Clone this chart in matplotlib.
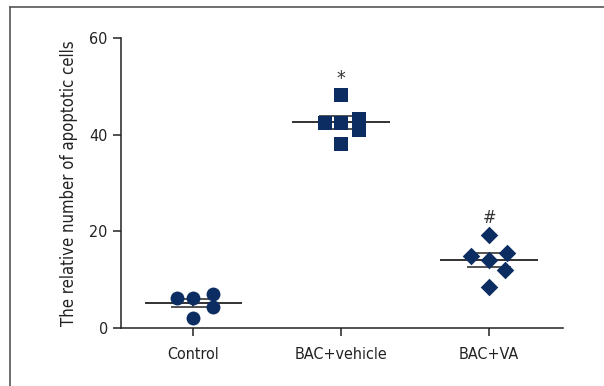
import numpy as np
import matplotlib.pyplot as plt
from matplotlib.lines import Line2D

groups = ['Control', 'BAC+vehicle', 'BAC+VA']
control = [6.2, 6.2, 7.0, 4.3, 2.1]
vehicle = [48.2, 42.4, 42.4, 43.2, 41.0, 38.1]
va = [19.2, 14.9, 14.1, 15.5, 12.0, 8.5]
offsets = [
    [-0.11, 0.0, 0.13, 0.13, 0.0],
    [0.0, -0.11, 0.0, 0.12, 0.12, 0.0],
    [0.0, -0.12, 0.0, 0.12, 0.11, 0.0],
]
markers = ['o', 's', 'D']
marks = ['', '*', '#']
color = '#0b2d62'

plt.rcParams['font.family'] = ['DejaVu Sans']
plt.rcParams['font.stretch'] = 'condensed'

fig = plt.figure(figsize=(6.04, 3.86), dpi=100)
ax = fig.add_axes([0.2003, 0.1503, 0.7317, 0.7513])

for i, vals in enumerate([control, vehicle, va]):
    vals = np.array(vals)
    xs = i + np.array(offsets[i])
    ax.scatter(xs, vals, marker=markers[i], s=100 if markers[i] != 'D' else 80,
               color=color, zorder=3, linewidths=0)
    m = vals.mean()
    sem = vals.std(ddof=1) / np.sqrt(len(vals))
    ax.hlines(m, i - 0.33, i + 0.33, color='#222222', lw=1.3, zorder=2)
    ax.vlines(i, m - sem, m + sem, color='#222222', lw=1.3, zorder=2)
    ax.hlines([m - sem, m + sem], i - 0.15, i + 0.15, color='#444444', lw=1.3, zorder=2)
    if marks[i] == '*':
        ax.text(i, vals.max() + 3.4, marks[i], ha='center', va='center', fontsize=14, color='#333333')
    elif marks[i]:
        ax.text(i, vals.max() + 3.6, marks[i], ha='center', va='center', fontsize=13, color='#333333')

ax.set_xlim(-0.49, 2.5)
ax.set_ylim(0, 60)
ax.set_yticks([0, 20, 40, 60])
ax.set_xticks(range(3))
ax.set_xticklabels(groups)
ax.spines['top'].set_visible(False)
ax.spines['right'].set_visible(False)
for s in ['left', 'bottom']:
    ax.spines[s].set_linewidth(1.1)
    ax.spines[s].set_color('#222222')
ax.tick_params(length=6, width=1.1, labelsize=11.5, color='#222222', labelcolor='#222222')
ax.tick_params(axis='x', pad=8)
ax.set_ylabel('The relative number of apoptotic cells', fontsize=12, color='#222222', labelpad=8)

fig.add_artist(Line2D([10 / 604, 10 / 604], [0, 1 - 7 / 386], color='#555555', lw=1.2))
fig.add_artist(Line2D([10 / 604, 1], [1 - 7 / 386, 1 - 7 / 386], color='#555555', lw=1.2))

fig.savefig('out.png', dpi=100)
